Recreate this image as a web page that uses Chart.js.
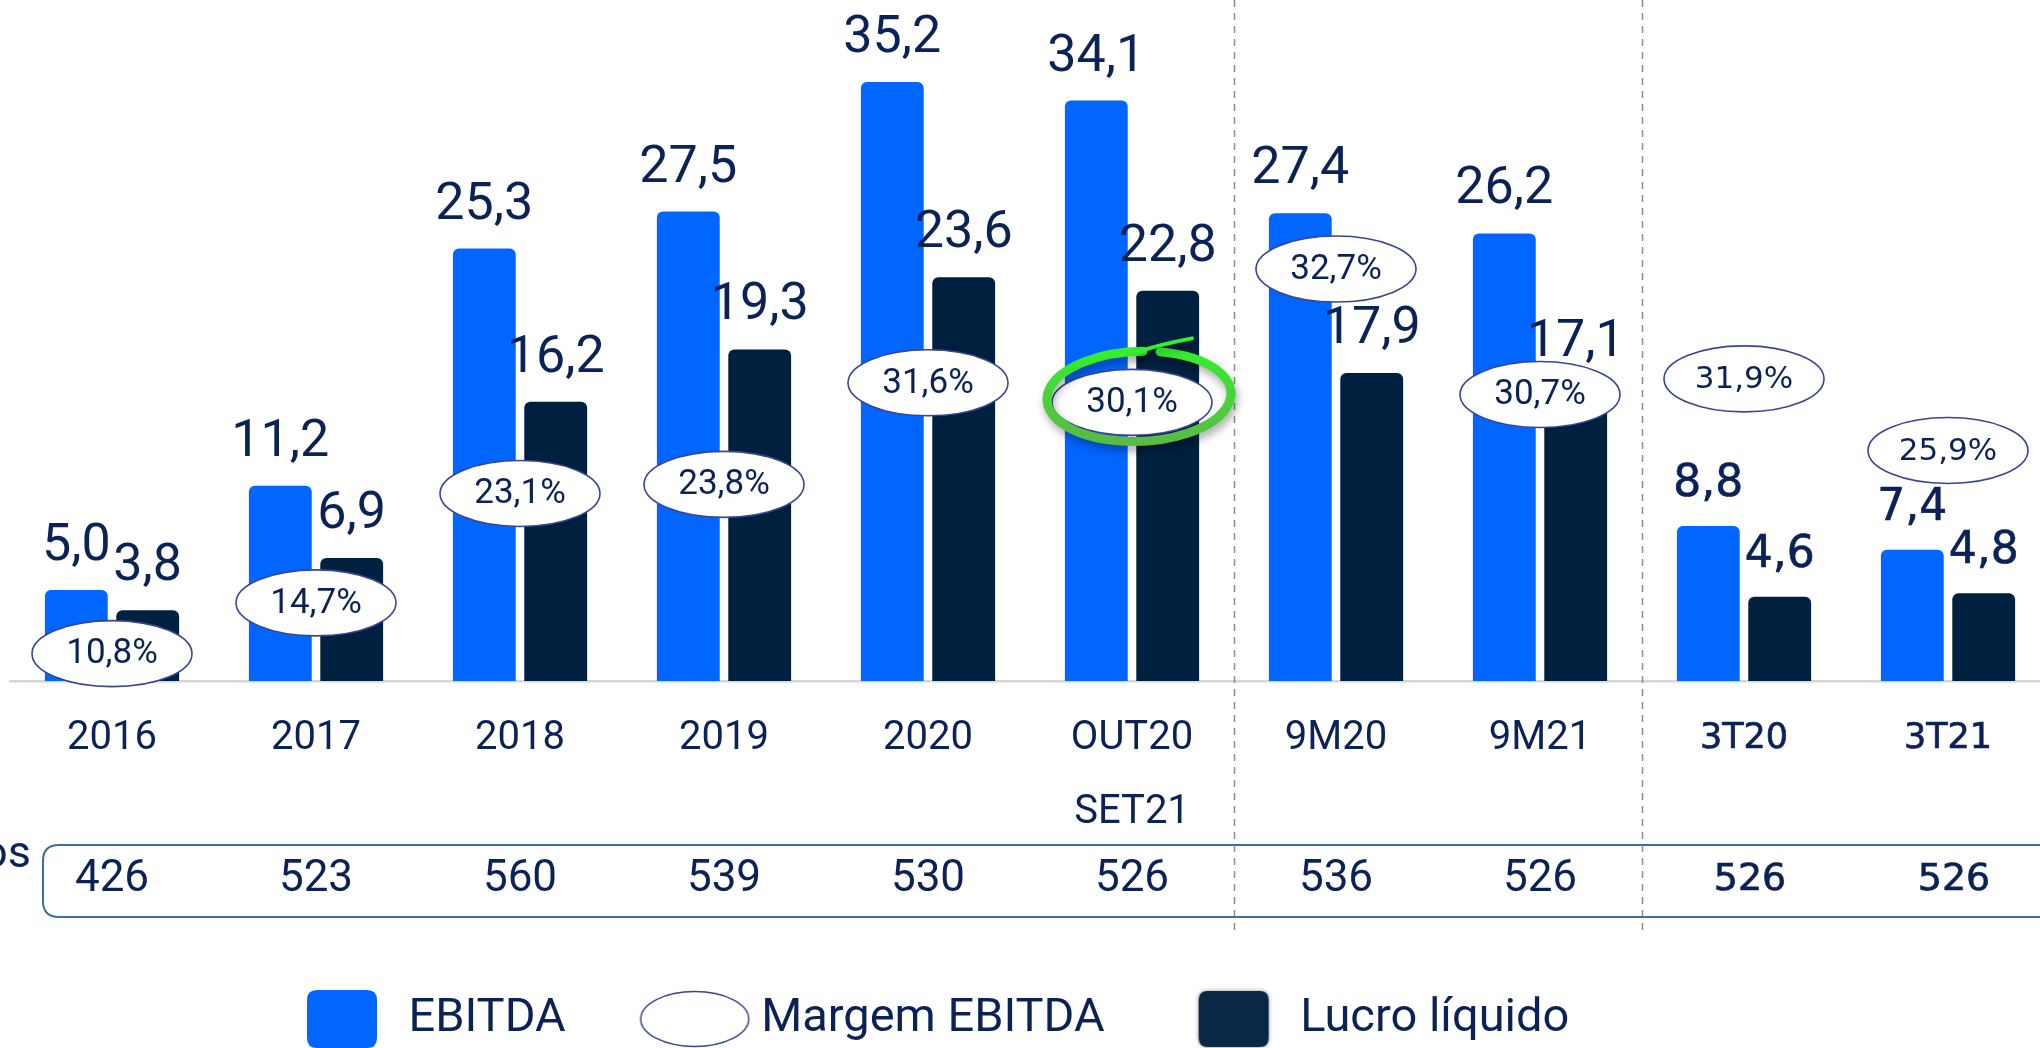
<!DOCTYPE html>
<html><head><meta charset="utf-8">
<script src="https://cdn.jsdelivr.net/npm/chart.js@4.4.0/dist/chart.umd.min.js"></script>
<style>html,body{margin:0;padding:0;overflow:hidden;background:#fff;width:2040px;height:1048px}canvas{display:block}</style>
</head><body>
<canvas id="c" width="2060" height="1048"></canvas>
<script>
// ---- data ----
const categories = ['2016','2017','2018','2019','2020',['OUT20','SET21'],'9M20','9M21','3T20','3T21'];
const ebitda = [5.0, 11.2, 25.3, 27.5, 35.2, 34.1, 27.4, 26.2, 8.8, 7.4];
const margemEbitda = [10.8, 14.7, 23.1, 23.8, 31.6, 30.1, 32.7, 30.7, 31.9, 25.9];
const lucroLiquido = [3.8, 6.9, 16.2, 19.3, 23.6, 22.8, 17.9, 17.1, 4.6, 4.8];
const tableValues = [426, 523, 560, 539, 530, 526, 536, 526, 526, 526];
const seriesNames = ['EBITDA', 'Margem EBITDA', 'Lucro líquido'];
const rowLabel = 'os';

// ---- style ----
const NAVY = '#0b2257', BLUE = '#0066ff', DARK = '#00203f';
const Y_MIN = -0.41, Y_MAX = 40.08, Y2_MIN = 8.7, Y2_MAX = 61.0;
const CHART_BOTTOM = 681, H = 1048;
const SPLITS = [5, 7];          // dashed separators after these category indexes
const HIGHLIGHT = 5;             // highlighted margin label
const isQ = i => i >= 8;         // last two categories use a Verdana-like face
const fam = i => isQ(i) ? '"DejaVu Sans"' : 'Roboto';
const LEG_FONT = 47, LEG_PAD = 86, LEG_X0 = 299, LEG_CY = 1019, Q_STROKE = 0.7;

function fmt(v) { return v.toFixed(1).replace('.', ','); }

function rr(ctx, x, y, w, h, r) {
  ctx.beginPath();
  ctx.moveTo(x + r, y); ctx.lineTo(x + w - r, y); ctx.quadraticCurveTo(x + w, y, x + w, y + r);
  ctx.lineTo(x + w, y + h - r); ctx.quadraticCurveTo(x + w, y + h, x + w - r, y + h);
  ctx.lineTo(x + r, y + h); ctx.quadraticCurveTo(x, y + h, x, y + h - r);
  ctx.lineTo(x, y + r); ctx.quadraticCurveTo(x, y, x + r, y); ctx.closePath();
}
function boldText(ctx, t, x, y, q) {
  ctx.fillText(t, x, y);
  if (q) { ctx.lineWidth = Q_STROKE; ctx.strokeStyle = ctx.fillStyle; ctx.strokeText(t, x, y); }
}

// legend icons
function icon(w, h, fn) { const c = document.createElement('canvas'); c.width = w; c.height = h; fn(c.getContext('2d')); return c; }
const icons = [
  icon(70, 58, g => { g.fillStyle = BLUE; rr(g, 0, 0, 70, 58, 10); g.fill(); }),
  icon(112, 58, g => { g.beginPath(); g.ellipse(56, 29, 54, 27.5, 0, 0, Math.PI * 2); g.fillStyle = '#fff'; g.fill(); g.strokeStyle = '#3a4590'; g.lineWidth = 1.5; g.stroke(); }),
  icon(80, 64, g => { g.shadowColor = 'rgba(0,0,0,0.45)'; g.shadowBlur = 4; g.fillStyle = '#0a2746'; rr(g, 5, 4, 70, 56, 9); g.fill(); })
];

function drawHighlight(ctx, cx, cy) {
  ctx.save();
  ctx.shadowColor = 'rgba(0,0,0,0.35)'; ctx.shadowBlur = 9; ctx.shadowOffsetX = 2; ctx.shadowOffsetY = 5;
  const g = ctx.createLinearGradient(cx, cy - 55, cx, cy + 45);
  g.addColorStop(0, '#33f02c'); g.addColorStop(1, '#5cb846');
  ctx.strokeStyle = g; ctx.lineCap = 'round';
  ctx.lineWidth = 9;
  ctx.beginPath(); ctx.ellipse(cx + 7, cy - 6, 92, 45, -0.04, Math.PI * 1.58, Math.PI * 1.58 + Math.PI * 1.94); ctx.stroke();
  ctx.lineWidth = 4;
  ctx.beginPath(); ctx.moveTo(cx + 4, cy - 50); ctx.quadraticCurveTo(cx + 28, cy - 58, cx + 60, cy - 64); ctx.stroke();
  ctx.restore();
}

const annot = {
  id: 'annot',
  afterLayout(chart) {
    const lg = chart.legend; if (!lg) return;
    const dx = (LEG_X0 - LEG_PAD) - lg.left; lg.left += dx; lg.right += dx;
    const dy = (LEG_CY - LEG_FONT / 2 - LEG_PAD) - lg.top; lg.top += dy; lg.bottom += dy;
  },
  beforeDatasetsDraw(chart) {
    const ctx = chart.ctx, xs = chart.scales.x;
    ctx.save();
    // table
    ctx.strokeStyle = '#3e6c9d'; ctx.lineWidth = 2;
    rr(ctx, 43, 845, 2100, 72, 16); ctx.stroke();
    ctx.fillStyle = NAVY; ctx.textBaseline = 'middle'; ctx.textAlign = 'center';
    tableValues.forEach((v, i) => {
      ctx.font = isQ(i) ? '38px "DejaVu Sans"' : '44px Roboto';
      boldText(ctx, String(v), xs.getPixelForValue(i) + (isQ(i) ? 6 : 0), 880, isQ(i));
    });
    ctx.textAlign = 'right'; ctx.textBaseline = 'alphabetic'; ctx.font = '45px Roboto';
    ctx.fillText(rowLabel, 31, 867);
    // separators
    ctx.strokeStyle = '#8c8c8c'; ctx.lineWidth = 1.5; ctx.setLineDash([7, 6]);
    SPLITS.forEach(k => {
      const x = Math.round((xs.getPixelForValue(k) + xs.getPixelForValue(k + 1)) / 2) + 0.5;
      ctx.beginPath(); ctx.moveTo(x, 0); ctx.lineTo(x, 933); ctx.stroke();
    });
    ctx.restore();
  },
  afterDatasetsDraw(chart) {
    const ctx = chart.ctx;
    const rects = categories.map(() => []);
    ctx.save();
    ctx.fillStyle = NAVY; ctx.textAlign = 'center'; ctx.textBaseline = 'alphabetic';
    [0, 2].forEach(di => {
      const meta = chart.getDatasetMeta(di), data = chart.data.datasets[di].data;
      meta.data.forEach((el, i) => {
        const size = isQ(i) ? 44 : 52;
        ctx.font = `${size}px ${fam(i)}`;
        const t = fmt(data[i]), w = ctx.measureText(t).width, by = el.y - 30;
        boldText(ctx, t, el.x, by, isQ(i));
        rects[i].push({ x1: el.x - w / 2, x2: el.x + w / 2, y1: by - size * (isQ(i) ? 0.73 : 0.711), y2: by });
      });
    });
    const mMeta = chart.getDatasetMeta(1);
    mMeta.data.forEach((el, i) => {
      const rx = 80, ry = 33;
      let cx = el.x, cy = el.y;
      for (let k = 0; k < 3; k++) for (const r of rects[i]) {
        if (cx + rx > r.x1 && cx - rx < r.x2 && cy + ry > r.y1 && cy - ry < r.y2) cy = r.y1 - 4 - ry;
      }
      ctx.beginPath(); ctx.ellipse(cx, cy, rx, ry, 0, 0, Math.PI * 2);
      ctx.fillStyle = '#fff'; ctx.fill();
      ctx.strokeStyle = '#3a4590'; ctx.lineWidth = 1.6; ctx.stroke();
      if (i === HIGHLIGHT) drawHighlight(ctx, cx, cy);
      ctx.fillStyle = NAVY; ctx.textBaseline = 'middle';
      ctx.font = isQ(i) ? '31px "DejaVu Sans"' : '35px Roboto';
      ctx.fillText(fmt(margemEbitda[i]) + '%', cx, cy + 1);
    });
    ctx.restore();
  }
};

new Chart(document.getElementById('c'), {
  data: {
    labels: categories,
    datasets: [
      { type: 'bar', label: seriesNames[0], data: ebitda, backgroundColor: BLUE, base: Y_MIN,
        borderRadius: 6, borderSkipped: 'start', categoryPercentage: 0.7, barPercentage: 0.88, yAxisID: 'y' },
      { type: 'line', label: seriesNames[1], data: margemEbitda, yAxisID: 'y2', showLine: false,
        pointRadius: 0, pointHoverRadius: 0, borderColor: '#3a4590', backgroundColor: '#fff' },
      { type: 'bar', label: seriesNames[2], data: lucroLiquido, backgroundColor: DARK, base: Y_MIN,
        borderRadius: 6, borderSkipped: 'start', categoryPercentage: 0.7, barPercentage: 0.88, yAxisID: 'y' }
    ]
  },
  options: {
    responsive: false, animation: false, devicePixelRatio: 1,
    layout: { padding: { left: 10, right: 10, top: 0, bottom: 0 } },
    plugins: {
      tooltip: { enabled: false },
      legend: {
        position: 'bottom', align: 'start',
        labels: {
          usePointStyle: true, pointStyleWidth: 86, padding: LEG_PAD, color: NAVY,
          font: { family: 'Roboto', size: LEG_FONT },
          generateLabels: chart => Chart.defaults.plugins.legend.labels.generateLabels(chart)
            .map(it => Object.assign(it, { pointStyle: icons[it.datasetIndex] }))
        }
      }
    },
    scales: {
      x: {
        offset: true,
        grid: { display: false, drawTicks: false },
        border: { display: true, color: '#d6d6d6', width: 2.5 },
        ticks: {
          color: NAVY, padding: 21, autoSkip: false, maxRotation: 0,
          textStrokeColor: NAVY,
          textStrokeWidth: c => isQ(c.index) ? Q_STROKE : 0,
          font: c => isQ(c.index) ? { family: 'DejaVu Sans', size: 35, lineHeight: '74px' } : { family: 'Roboto', size: 40, lineHeight: '74px' }
        },
        afterFit: s => { s.height = H - CHART_BOTTOM - (s.chart.legend ? s.chart.legend.height : 0); }
      },
      y: { display: false, min: Y_MIN, max: Y_MAX },
      y2: { display: false, min: Y2_MIN, max: Y2_MAX }
    }
  },
  plugins: [annot]
});
</script>
</body></html>
